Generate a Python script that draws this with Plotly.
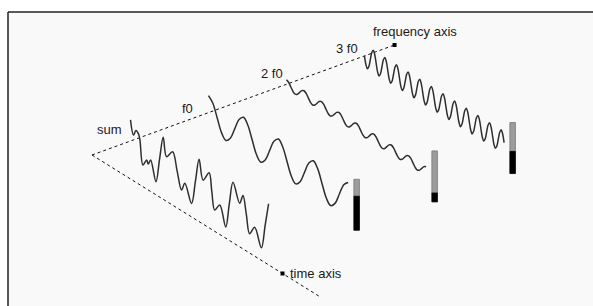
import plotly.graph_objects as go

# ---------------- data ----------------
labels = ["sum", "f0", "2 f0", "3 f0"]
harmonic_numbers = [1, 2, 3]
# peak amplitude of each component, relative to f0
harmonic_amplitudes = [1.0, 0.26, 0.65]

# one period of each component sampled every eighth of its period (normalised)
f0_period = [1, 0.71, 0, -0.71, -1, -0.71, 0, 0.71]
f2_period = [1, 0.71, 0, -0.71, -1, -0.71, 0, 0.71]
f3_period = [0, -0.71, -1, -0.71, 0, 0.71, 1, 0.71]

# summed signal: time (in f0 periods) and value (relative to f0 amplitude)
sum_t = [0.0, 0.086, 0.157, 0.229, 0.27, 0.357, 0.463, 0.509, 0.577, 0.729,
         0.833, 0.937,
         1.034, 1.206, 1.335, 1.463, 1.557, 1.749, 1.86, 1.966,
         2.08, 2.251, 2.33, 2.414, 2.557, 2.729, 2.83, 2.937,
         3.129, 3.223, 3.32, 3.414, 3.557, 3.749, 3.86, 3.957]
sum_v = [1.24, 0.46, 0.82, 0.71, 0.41, -0.96, -0.53, -0.71, -0.38, -1.46,
         0.0, 1.41,
         0.39, 0.91, -0.05, -1.02, -0.5, -1.44, 0.0, 1.43,
         0.36, 1.01, 0.0, -0.98, -0.5, -1.58, -0.1, 1.32,
         0.33, 0.91, -0.1, -1.1, -0.53, -1.5, 0.0, 1.36]

duration = 4.0          # f0 periods shown
axis_origin_p = -0.494  # frequency position of the axes' origin
freq_axis_end = 3.385
time_axis_mark = 5.46
time_axis_end = 6.5

# ---------------- oblique projection ----------------
X0, Y0 = 130.5, 141.0
FX, FY = 78.0, -28.36
TX, TY = 34.9, 21.7
AY = 17.0


def proj(p, t, v):
    return X0 + p * FX + t * TX, Y0 + p * FY + t * TY - v * AY


fig = go.Figure()

# white margin strips outside the frame, then its left/top edges
fig.add_shape(type="rect", x0=0, y0=0, x1=593, y1=12, layer="below",
              line=dict(width=0), fillcolor="#ffffff")
fig.add_shape(type="rect", x0=0, y0=0, x1=8, y1=306, layer="below",
              line=dict(width=0), fillcolor="#ffffff")
fig.add_shape(type="line", x0=8, y0=12, x1=600, y1=12, layer="below",
              line=dict(color="#222", width=1.5))
fig.add_shape(type="line", x0=8, y0=12, x1=8, y1=320, layer="below",
              line=dict(color="#222", width=1.5))

dash_style = dict(color="#111", width=1, dash="3px,3px")

# frequency axis
ax, ay = zip(proj(axis_origin_p, 0, 0), proj(freq_axis_end, 0, 0))
fig.add_trace(go.Scatter(x=list(ax), y=list(ay), mode="lines", line=dash_style))
# time axis
tx_, ty_ = zip(proj(axis_origin_p, 0, 0), proj(axis_origin_p, time_axis_end, 0))
fig.add_trace(go.Scatter(x=list(tx_), y=list(ty_), mode="lines", line=dash_style))

mx, my = zip(proj(freq_axis_end, 0, 0), proj(axis_origin_p, time_axis_mark, 0))
fig.add_trace(go.Scatter(x=list(mx), y=list(my), mode="markers",
                         marker=dict(symbol="square", size=4, color="#000")))

# waveforms
curve_style = dict(color="#2e2e2e", width=1.5, shape="spline", smoothing=1.0)

sx, sy = [], []
for t, v in zip(sum_t, sum_v):
    x, y = proj(0, t, v)
    sx.append(x); sy.append(y)
fig.add_trace(go.Scatter(x=sx, y=sy, mode="lines", line=curve_style))

for h, amp, period in zip(harmonic_numbers, harmonic_amplitudes,
                          [f0_period, f2_period, f3_period]):
    n = len(period)
    total = int(round(duration * h * n))
    xs, ys = [], []
    for k in range(total + 1):
        t = k / (n * h)
        x, y = proj(h, t, period[k % n] * amp)
        xs.append(x); ys.append(y)
    fig.add_trace(go.Scatter(x=xs, y=ys, mode="lines", line=curve_style))

    # amplitude bar: grey full scale, black = peak-to-peak amplitude
    bt = duration + 0.245
    half_w = 2.8
    cx, cy = proj(h, bt, 0)
    top = cy - 1.5 * AY
    bottom = cy + 1.5 * AY
    mid = bottom - 2 * amp * AY
    fig.add_trace(go.Scatter(
        x=[cx - half_w, cx + half_w, cx + half_w, cx - half_w, cx - half_w],
        y=[top, top, mid, mid, top], mode="lines", fill="toself",
        fillcolor="#9c9c9c", line=dict(color="#7a7a7a", width=0.8)))
    fig.add_trace(go.Scatter(
        x=[cx - half_w, cx + half_w, cx + half_w, cx - half_w, cx - half_w],
        y=[mid, mid, bottom, bottom, mid], mode="lines", fill="toself",
        fillcolor="#000", line=dict(color="#000", width=0.8)))

# labels
font = dict(family="Liberation Sans, Arial, sans-serif", size=13, color="#1a1a1a")
label_pos = [(109, 129.5), (187.5, 108.5), (272, 73), (347, 48)]
for text, (x, y) in zip(labels, label_pos):
    fig.add_annotation(x=x, y=y, text=text, showarrow=False, font=font,
                       xanchor="center", yanchor="middle")
fig.add_annotation(x=415, y=31, text="frequency axis", showarrow=False,
                   font=font, xanchor="center", yanchor="middle")
fig.add_annotation(x=287.5, y=273.5, text="time axis", showarrow=False,
                   font=font, xanchor="left", yanchor="middle")

fig.update_layout(
    width=593, height=306, margin=dict(l=0, r=0, t=0, b=0),
    paper_bgcolor="#f9f9f9", plot_bgcolor="#f9f9f9", showlegend=False,
    xaxis=dict(range=[0, 593], visible=False, fixedrange=True),
    yaxis=dict(range=[306, 0], visible=False, fixedrange=True),
)

fig.write_html(
    "out.html",
    config={"displayModeBar": False},
    post_script="document.body.style.margin='0';document.body.style.overflow='hidden';",
)
